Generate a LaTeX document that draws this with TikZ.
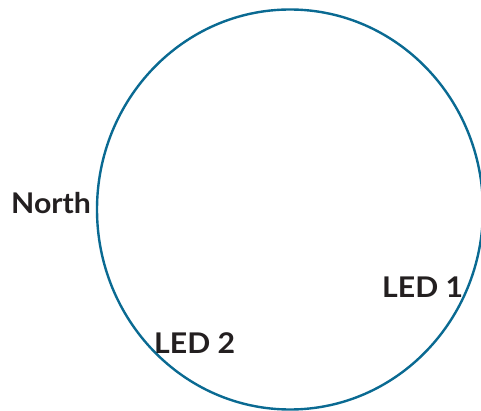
\documentclass[tikz,border=0pt]{standalone}
\usepackage{fontspec}
\setmainfont{Lato}[FakeStretch=1.06]
\definecolor{ringblue}{RGB}{10,106,146}
\definecolor{labeltext}{RGB}{35,31,32}
\begin{document}
\begin{tikzpicture}[x=1pt,y=-1pt,
  lbl/.style={anchor=base west,inner sep=0pt,text=labeltext,font=\fontsize{28.5}{30}\selectfont\bfseries}]
\useasboundingbox (0,0) rectangle (481,411);
\begin{scope}
\clip (0,0) rectangle (481,411);
\draw[ringblue,line width=2.4pt] (290,209.5) ellipse [x radius=193,y radius=200];
\end{scope}
\node[lbl] (north) at (11,214) {North};
\node[lbl] (led1) at (382,297) {LED 1};
\node[lbl] (led2) at (154,353) {LED 2};
\end{tikzpicture}
\end{document}
